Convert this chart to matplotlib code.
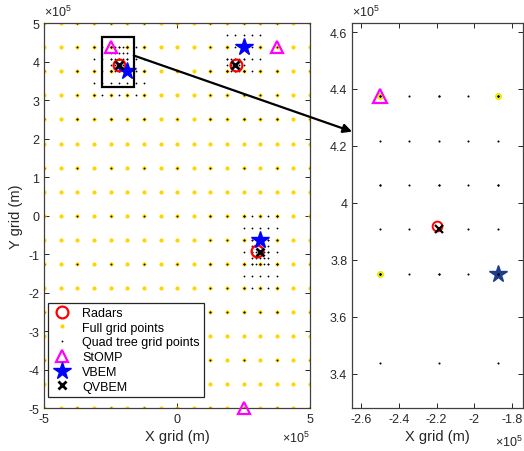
import numpy as np
import matplotlib
matplotlib.use("Agg")
import matplotlib.pyplot as plt
from matplotlib.patches import Rectangle, ConnectionPatch
from matplotlib.ticker import FuncFormatter

plt.rcParams["font.family"] = ["Liberation Sans", "DejaVu Sans"]
plt.rcParams["axes.unicode_minus"] = False
plt.rcParams["mathtext.fontset"] = "custom"
plt.rcParams["mathtext.rm"] = "Liberation Sans"

SCALE = 1e5

# --- scene data (units of 1e5 m) ---
radar_x = [-2.2, 2.2, 3.0]
radar_y = [3.92, 3.92, -0.92]
stomp_x = [-2.5, 3.75, 2.5]
stomp_y = [4.375, 4.375, -5.0]
vbem_x = [-1.875, 2.5, 3.125]
vbem_y = [3.75, 4.375, -0.625]
qvbem_x = [-2.1875, 2.1875, 3.125]
qvbem_y = [3.90625, 3.90625, -0.9375]

# full uniform grid
full_lo, full_hi, full_step = -5.0, 5.0, 0.625

# quad tree cells: (x0, x1, y0, y1, step)
qt_cells = [
    (-5.0, 5.0, -5.0, 5.0, 1.25),
    (-3.75, -1.25, 2.5, 5.0, 0.625),
    (1.25, 3.75, 2.5, 5.0, 0.625),
    (1.25, 3.75, -2.5, 0.0, 0.625),
    (-3.125, -1.25, 3.125, 4.375, 0.3125),
    (1.875, 3.125, 3.75, 4.6875, 0.3125),
    (2.5, 3.75, -1.875, 0.0, 0.3125),
    (-2.5, -1.875, 3.75, 4.375, 0.15625),
    (1.875, 2.5, 3.75, 4.0625, 0.15625),
    (2.8125, 3.4375, -1.25, -0.625, 0.15625),
]

# zoom window shown on the left, and limits of the zoomed panel
box_x0, box_x1, box_y0, box_y1 = -2.82, -1.63, 3.33, 4.65
zoom_xlim = (-2.648, -1.742)
zoom_ylim = (3.278, 4.631)


def grid_pts(x0, x1, y0, y1, step):
    xs = np.arange(x0, x1 + step / 2, step)
    ys = np.arange(y0, y1 + step / 2, step)
    gx, gy = np.meshgrid(xs, ys)
    return gx.ravel(), gy.ravel()


fx, fy = grid_pts(full_lo, full_hi, full_lo, full_hi, full_step)
qx, qy = [], []
for c in qt_cells:
    a, b = grid_pts(*c)
    qx.append(a); qy.append(b)
qx = np.concatenate(qx); qy = np.concatenate(qy)

INK = "#262626"
EXP = r"$\mathregular{\times10^5}$"
fig = plt.figure(figsize=(5.24, 4.52), dpi=100)
ax1 = fig.add_axes([0.0845, 0.0945, 0.507, 0.852])
ax2 = fig.add_axes([0.672, 0.0945, 0.326, 0.852])

fmt = FuncFormatter(lambda v, _: f"{v / SCALE:g}")
for ax in (ax1, ax2):
    ax.tick_params(direction="in", top=True, right=True, labelsize=9,
                   colors=INK, length=3.5, width=0.7)
    for s in ax.spines.values():
        s.set_color("#404040"); s.set_linewidth(0.9)
    ax.xaxis.set_major_formatter(fmt)
    ax.yaxis.set_major_formatter(fmt)
    ax.set_xlabel("X grid (m)", fontsize=10.5, color=INK, labelpad=3)

# ---------------- main panel ----------------
ax1.plot(np.array(radar_x) * SCALE, np.array(radar_y) * SCALE, "o", ms=8.5, mfc="none",
         mec="red", mew=1.6, ls="none", label="Radars", zorder=3)
ax1.plot(fx * SCALE, fy * SCALE, "o", ms=3.0, color="#FFD500", mec="none", ls="none",
         label="Full grid points", zorder=2)
ax1.plot(qx * SCALE, qy * SCALE, "o", ms=1.3, color="black", mec="none", ls="none",
         label="Quad tree grid points", zorder=2.5)
ax1.plot(np.array(stomp_x) * SCALE, np.array(stomp_y) * SCALE, "^", ms=9, mfc="none",
         mec="magenta", mew=1.6, ls="none", label="StOMP", zorder=4, clip_on=False)
ax1.plot(np.array(vbem_x) * SCALE, np.array(vbem_y) * SCALE, "*", ms=13, color="blue",
         ls="none", label="VBEM", zorder=4)
ax1.plot(np.array(qvbem_x) * SCALE, np.array(qvbem_y) * SCALE, "x", ms=6, mew=2,
         color="black", ls="none", label="QVBEM", zorder=5)

ax1.set_xlim(-5 * SCALE, 5 * SCALE)
ax1.set_ylim(-5 * SCALE, 5 * SCALE)
ax1.set_xticks(np.array([-5, 0, 5]) * SCALE)
ax1.set_yticks(np.arange(-5, 6) * SCALE)
ax1.set_ylabel("Y grid (m)", fontsize=10.5, color=INK, labelpad=4)

ax1.add_patch(Rectangle((box_x0 * SCALE, box_y0 * SCALE), (box_x1 - box_x0) * SCALE,
                        (box_y1 - box_y0) * SCALE, fill=False, ec="black", lw=1.6, zorder=6))

leg = ax1.legend(loc="lower left", bbox_to_anchor=(0.014, 0.029), borderaxespad=0,
                 fontsize=9, frameon=True, fancybox=False, framealpha=1,
                 handlelength=1.6, handletextpad=0.8, labelspacing=0.22,
                 borderpad=0.35, markerscale=1.0)
leg.get_frame().set_edgecolor(INK)
leg.get_frame().set_linewidth(0.9)
leg.set_zorder(10)

ax1.text(0.0, 1.012, EXP, transform=ax1.transAxes, fontsize=9, color=INK,
         ha="left", va="bottom")
ax1.text(1.0, -0.075, EXP, transform=ax1.transAxes, fontsize=9, color=INK,
         ha="right", va="center")

# ---------------- zoomed panel ----------------
ax2.plot(np.array(radar_x) * SCALE, np.array(radar_y) * SCALE, "o", ms=7, mfc="none",
         mec="red", mew=1.4, ls="none", zorder=3)
ax2.plot(fx * SCALE, fy * SCALE, "o", ms=4, color="yellow", mec="#E8E800", ls="none", zorder=2)
ax2.plot(np.array(stomp_x) * SCALE, np.array(stomp_y) * SCALE, "^", ms=9.5, mfc="none",
         mec="magenta", mew=1.6, ls="none", zorder=4)
ax2.plot(np.array(vbem_x) * SCALE, np.array(vbem_y) * SCALE, "*", ms=13, color="#1E3C8C",
         ls="none", zorder=4)
ax2.plot(qx * SCALE, qy * SCALE, "o", ms=1.5, color="black", mec="none", ls="none", zorder=4.5)
ax2.plot(np.array(qvbem_x) * SCALE, np.array(qvbem_y) * SCALE, "x", ms=5.5, mew=1.6,
         color="black", ls="none", zorder=5)

ax2.set_xlim(zoom_xlim[0] * SCALE, zoom_xlim[1] * SCALE)
ax2.set_ylim(zoom_ylim[0] * SCALE, zoom_ylim[1] * SCALE)
ax2.set_xticks(np.array([-2.6, -2.4, -2.2, -2.0, -1.8]) * SCALE)
ax2.set_yticks(np.array([3.4, 3.6, 3.8, 4.0, 4.2, 4.4, 4.6]) * SCALE)
ax2.text(0.0, 1.012, EXP, transform=ax2.transAxes, fontsize=9, color=INK,
         ha="left", va="bottom")
ax2.text(1.0, -0.085, EXP, transform=ax2.transAxes, fontsize=9, color=INK,
         ha="right", va="center")

# arrow from the zoom window to the zoomed panel
con = ConnectionPatch(xyA=(box_x1 * SCALE, 4.16 * SCALE), coordsA=ax1.transData,
                      xyB=(zoom_xlim[0] * SCALE, 4.25 * SCALE), coordsB=ax2.transData,
                      arrowstyle="-|>", mutation_scale=13, lw=1.6, color="black", zorder=20)
fig.add_artist(con)

fig.savefig("out.png", dpi=100, facecolor="white")
